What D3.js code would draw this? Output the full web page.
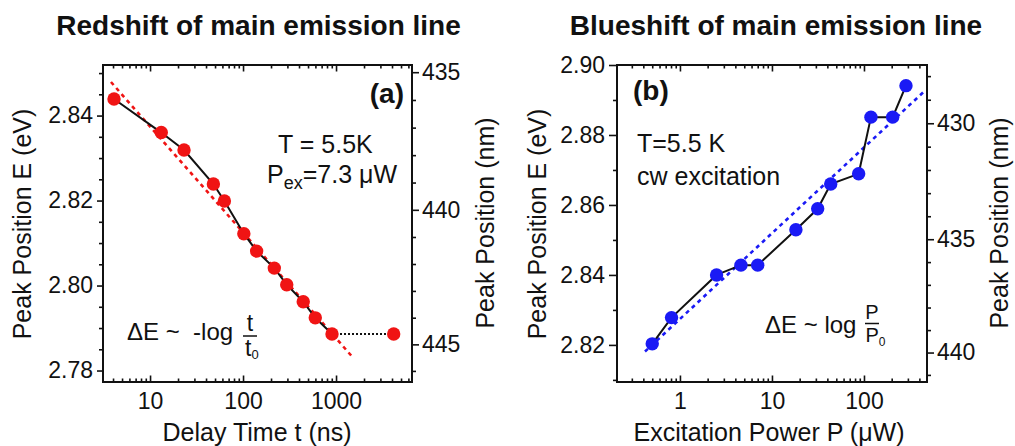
<!DOCTYPE html>
<html>
<head>
<meta charset="utf-8">
<script src="https://cdn.jsdelivr.net/npm/d3@7"></script>
<style>
  body { margin: 0; background: #fff; }
  svg { display: block; font-family: "Liberation Sans", Arial, Helvetica, sans-serif; }
  .pre { white-space: pre; }
</style>
</head>
<body>
<svg id="chart" width="1015" height="446"></svg>
<script>
// ---- Panel (a): peak energy vs. delay time ----
const delayTime = [4.1, 13.2, 23.2, 48, 63, 102, 140, 217, 295, 444, 598, 905, 4170];
const redshiftEnergy = [2.8439, 2.8360, 2.8319, 2.8239, 2.8199, 2.8122, 2.8081, 2.8041, 2.8002, 2.7962, 2.7924, 2.7886, 2.7886];
const redshiftFitTime = [3.8, 1486];
const redshiftFitEnergy = [2.8479, 2.7833];

// ---- Panel (b): peak energy vs. excitation power ----
const excitationPower = [0.5, 0.81, 2.5, 4.6, 7.0, 18.2, 31.4, 43.5, 87.5, 119, 205, 286];
const blueshiftEnergy = [2.8203, 2.8278, 2.8400, 2.8428, 2.8428, 2.8529, 2.8589, 2.8660, 2.8689, 2.8851, 2.8851, 2.8941];
const blueshiftFitPower = [0.417, 449];
const blueshiftFitEnergy = [2.8181, 2.8924];

// ---- tick labels ----
const delayTicks = [10, 100, 1000];
const powerTicks = [1, 10, 100];
const redshiftEnergyTicks = [2.78, 2.80, 2.82, 2.84];
const blueshiftEnergyTicks = [2.82, 2.84, 2.86, 2.88, 2.90];
const redshiftWavelengthTicks = [435, 440, 445];
const blueshiftWavelengthTicks = [430, 435, 440];

const HC = 1239.84; // eV * nm
const INK = "#111";
const svg = d3.select("#chart");

function isPow10(v) {
  const l = Math.log10(v);
  return Math.abs(l - Math.round(l)) < 1e-9;
}

function styleAxis(sel, fontSize) {
  sel.select(".domain").remove();
  sel.attr("font-family", null).attr("font-size", null);
  sel.selectAll(".tick line").attr("stroke", INK).attr("stroke-width", 1.6);
  sel.selectAll(".tick text").attr("fill", INK).style("font-size", fontSize + "px");
}

function drawPanel(p) {
  const top = 65, bottom = 382;
  const x = d3.scaleLog().domain(p.xDomain).range([p.left, p.right]);
  const y = d3.scaleLinear().domain(p.yDomain).range([bottom, top]);
  const g = svg.append("g");

  // log minor ticks (everything that is not a power of ten)
  const xMinor = x.ticks().filter(v => !isPow10(v));

  // bottom axis, ticks pointing inwards
  g.append("g").attr("transform", `translate(0,${bottom})`)
    .call(d3.axisBottom(x).tickValues(xMinor).tickSize(-3.5).tickFormat(""))
    .call(s => styleAxis(s, 23));
  g.append("g").attr("transform", `translate(0,${bottom})`)
    .call(d3.axisBottom(x).tickValues(p.xTicks).tickSize(-6.5).tickPadding(11).tickFormat(d3.format("d")))
    .call(s => styleAxis(s, 23));

  // top axis, ticks pointing inwards, no labels
  g.append("g").attr("transform", `translate(0,${top})`)
    .call(d3.axisTop(x).tickValues(xMinor).tickSize(-3.5).tickFormat(""))
    .call(s => styleAxis(s, 23));
  g.append("g").attr("transform", `translate(0,${top})`)
    .call(d3.axisTop(x).tickValues(p.xTicks).tickSize(-6.5).tickFormat(""))
    .call(s => styleAxis(s, 23));

  // left energy axis
  g.append("g").attr("transform", `translate(${p.left},0)`)
    .call(d3.axisLeft(y).tickValues(p.yMinor).tickSize(4).tickFormat(""))
    .call(s => styleAxis(s, 23));
  g.append("g").attr("transform", `translate(${p.left},0)`)
    .call(d3.axisLeft(y).tickValues(p.yTicks).tickSize(p.leftTick).tickPadding(p.leftPad).tickFormat(d3.format(".2f")))
    .call(s => styleAxis(s, 23));

  // right wavelength axis (nm = hc / E)
  const nmLo = Math.ceil(HC / p.yDomain[1]), nmHi = Math.floor(HC / p.yDomain[0]);
  const nmMinor = d3.range(nmLo, nmHi + 1).filter(n => !p.nmTicks.includes(n));
  g.append("g").attr("transform", `translate(${p.right},0)`)
    .call(d3.axisRight(y).tickValues(nmMinor.map(n => HC / n)).tickSize(4).tickFormat(""))
    .call(s => styleAxis(s, 23));
  g.append("g").attr("transform", `translate(${p.right},0)`)
    .call(d3.axisRight(y).tickValues(p.nmTicks.map(n => HC / n)).tickSize(7).tickPadding(3)
      .tickFormat(e => Math.round(HC / e)))
    .call(s => styleAxis(s, 23));

  // frame
  g.append("rect")
    .attr("x", p.left).attr("y", top)
    .attr("width", p.right - p.left).attr("height", bottom - top)
    .attr("fill", "none").attr("stroke", INK).attr("stroke-width", 2);

  const line = d3.line().x(d => x(d[0])).y(d => y(d[1]));

  // logarithmic fit
  const fit = p.fitX.map((v, i) => [v, p.fitY[i]]);
  g.append("path").datum(fit).attr("d", line)
    .attr("fill", "none").attr("stroke", p.color).attr("stroke-width", 2.6)
    .attr("stroke-dasharray", "4,4");

  // measured points connected by a solid line
  const pts = p.xs.map((v, i) => [v, p.ys[i]]);
  const solid = pts.slice(0, p.solidCount);
  g.append("path").datum(solid).attr("d", line)
    .attr("fill", "none").attr("stroke", INK).attr("stroke-width", 2);
  if (p.solidCount < pts.length) {
    g.append("path").datum(pts.slice(p.solidCount - 1)).attr("d", line)
      .attr("fill", "none").attr("stroke", INK).attr("stroke-width", 1.8)
      .attr("stroke-dasharray", "2,2");
  }
  g.selectAll("circle.pt").data(pts).join("circle")
    .attr("class", "pt")
    .attr("cx", d => x(d[0])).attr("cy", d => y(d[1]))
    .attr("r", 6.7).attr("fill", p.color);

  // titles and axis labels
  svg.append("text").attr("x", (p.left + p.right) / 2 + p.titleShift).attr("y", 35)
    .attr("text-anchor", "middle").attr("font-weight", "bold").attr("font-size", 28)
    .attr("fill", INK).text(p.title);
  svg.append("text").attr("x", p.xLabelX).attr("y", 441)
    .attr("text-anchor", "middle").attr("font-size", 25).attr("fill", INK).text(p.xLabel);
  svg.append("text").attr("transform", `translate(${p.leftLabelX},224) rotate(-90)`)
    .attr("text-anchor", "middle").attr("font-size", 25).attr("fill", INK)
    .text("Peak Position E (eV)");
  svg.append("text").attr("transform", `translate(${p.rightLabelX},223) rotate(-90)`)
    .attr("text-anchor", "middle").attr("font-size", 25).attr("fill", INK)
    .text("Peak Position (nm)");
  return g;
}

// ---------- panel (a) ----------
const ga = drawPanel({
  left: 103, right: 412,
  xDomain: [3.12, 6560], yDomain: [2.7773, 2.8519],
  xTicks: delayTicks, yTicks: redshiftEnergyTicks,
  yMinor: d3.range(2.78, 2.8526, 0.005).map(v => +v.toFixed(3)).filter(v => !redshiftEnergyTicks.some(t => Math.abs(t - v) < 1e-6)),
  nmTicks: redshiftWavelengthTicks,
  leftTick: 6, leftPad: 4,
  xs: delayTime, ys: redshiftEnergy, solidCount: 12,
  fitX: redshiftFitTime, fitY: redshiftFitEnergy,
  color: "#f01414",
  title: "Redshift of main emission line", titleShift: 1,
  xLabel: "Delay Time t (ns)", xLabelX: 257,
  leftLabelX: 31, rightLabelX: 494
});

ga.append("text").attr("x", 404).attr("y", 103).attr("text-anchor", "end")
  .attr("font-weight", "bold").attr("font-size", 28).attr("fill", INK).text("(a)");
ga.append("text").attr("x", 278).attr("y", 153).attr("font-size", 25).attr("fill", INK)
  .text("T = 5.5K");
const pex = ga.append("text").attr("x", 267).attr("y", 183).attr("font-size", 25).attr("fill", INK);
pex.append("tspan").text("P");
pex.append("tspan").attr("dy", 6).attr("font-size", 18).text("ex");
pex.append("tspan").attr("dy", -6).text("=7.3 μW");
ga.append("text").attr("class", "pre").attr("x", 127).attr("y", 340).attr("font-size", 24).attr("fill", INK)
  .text("ΔE ~  -log");
ga.append("text").attr("x", 250).attr("y", 331).attr("text-anchor", "middle")
  .attr("font-size", 23).attr("fill", INK).text("t");
ga.append("line").attr("x1", 243).attr("x2", 257).attr("y1", 336).attr("y2", 336)
  .attr("stroke", INK).attr("stroke-width", 1.5);
const t0 = ga.append("text").attr("x", 245).attr("y", 356).attr("font-size", 23).attr("fill", INK);
t0.append("tspan").text("t");
t0.append("tspan").attr("dy", 3).attr("font-size", 13).text("0");

// ---------- panel (b) ----------
const gb = drawPanel({
  left: 617, right: 927,
  xDomain: [0.207, 484], yDomain: [2.8094, 2.90],
  xTicks: powerTicks, yTicks: blueshiftEnergyTicks,
  yMinor: d3.range(2.81, 2.9, 0.01).map(v => +v.toFixed(2)).filter(v => !blueshiftEnergyTicks.some(t => Math.abs(t - v) < 1e-6)),
  nmTicks: blueshiftWavelengthTicks,
  leftTick: 8, leftPad: 4,
  xs: excitationPower, ys: blueshiftEnergy, solidCount: excitationPower.length,
  fitX: blueshiftFitPower, fitY: blueshiftFitEnergy,
  color: "#1a1af5",
  title: "Blueshift of main emission line", titleShift: 4,
  xLabel: "Excitation Power P (μW)", xLabelX: 769,
  leftLabelX: 546, rightLabelX: 1008
});

gb.append("text").attr("x", 633).attr("y", 100)
  .attr("font-weight", "bold").attr("font-size", 28).attr("fill", INK).text("(b)");
gb.append("text").attr("x", 637).attr("y", 152).attr("font-size", 25).attr("fill", INK)
  .text("T=5.5 K");
gb.append("text").attr("x", 637).attr("y", 185).attr("font-size", 25).attr("fill", INK)
  .text("cw excitation");
gb.append("text").attr("x", 765).attr("y", 333).attr("font-size", 24).attr("fill", INK)
  .text("ΔE ~ log");
gb.append("text").attr("x", 872).attr("y", 319).attr("text-anchor", "middle")
  .attr("font-size", 20).attr("fill", INK).text("P");
gb.append("line").attr("x1", 865).attr("x2", 879).attr("y1", 323.5).attr("y2", 323.5)
  .attr("stroke", INK).attr("stroke-width", 1.5);
const p0 = gb.append("text").attr("x", 865.5).attr("y", 342).attr("font-size", 20).attr("fill", INK);
p0.append("tspan").text("P");
p0.append("tspan").attr("dy", 4).attr("font-size", 12).text("0");
</script>
</body>
</html>
